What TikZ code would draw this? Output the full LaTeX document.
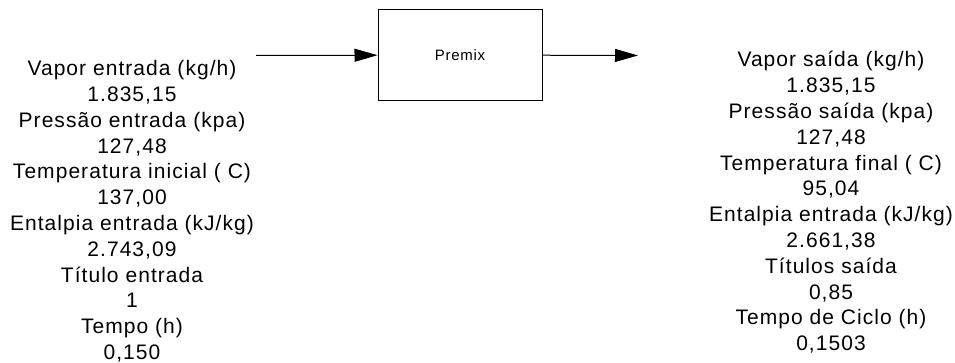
\documentclass[tikz,border=0pt]{standalone}
\usepackage{fontspec}
\newfontfamily\visiofont{Liberation Sans}[LetterSpace=5]
\usetikzlibrary{arrows.meta}
\tikzset{%
  >={Triangle[width=13pt,length=23pt]},
  % Specifications for style of nodes:
     base/.style = {inner sep=0pt, align=center, text=black},
  process/.style = {base, rectangle, draw=black, line width=1pt,
                    minimum width=164pt, minimum height=91pt,
                    font={\visiofont\fontsize{15}{17}\selectfont}},
   stream/.style = {base, anchor=north,
                    font={\visiofont\fontsize{21}{25.8}\selectfont}},
}

\begin{document}
\begin{tikzpicture}[x=1pt, y=-1pt, line width=1pt]
  \useasboundingbox (0,0) rectangle (955,363);
  % Specification of nodes (position, etc.)
  \node (premix) [process] at (460,55) {Premix};
  \coordinate (inlet) at (256,55.5);
  \coordinate (outlet) at (638,55.5);
  \node (inflow) [stream] at (132,60) {Vapor entrada (kg/h)\\1.835,15\\
    Pressão entrada (kpa)\\127,48\\Temperatura inicial ( C)\\137,00\\
    Entalpia entrada (kJ/kg)\\2.743,09\\Título entrada\\1\\Tempo (h)\\0,150};
  \node (outflow) [stream] at (831,51) {Vapor saída (kg/h)\\1.835,15\\
    Pressão saída (kpa)\\127,48\\Temperatura final ( C)\\95,04\\
    Entalpia entrada (kJ/kg)\\2.661,38\\Títulos saída\\0,85\\
    Tempo de Ciclo (h)\\0,1503};
  % Specification of lines between nodes specified above
  \draw[->] (inlet) -- (premix);
  \draw[->] (premix) -- (outlet);
\end{tikzpicture}
\end{document}
